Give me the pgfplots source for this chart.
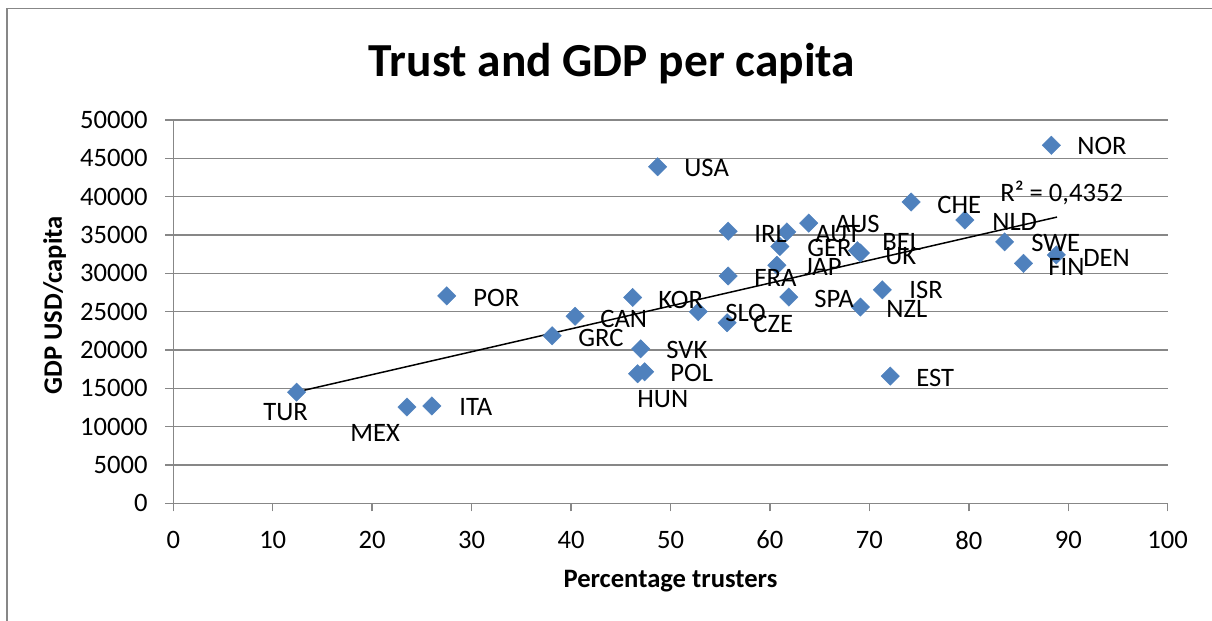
\documentclass[border=0pt]{standalone}
\usepackage{pgfplots}
\pgfplotsset{compat=1.18}
\usepackage{fontspec}
\setmainfont{Carlito}
\definecolor{mk}{HTML}{4F81BD}
\definecolor{gridc}{HTML}{878787}
\newcommand{\tf}{\fontsize{13.3}{16}\selectfont}
\begin{document}
\begin{tikzpicture}
\useasboundingbox (-86.65pt,-58.85pt) rectangle (519.35pt,251.65pt);
\draw[gridc, line width=0.8pt] (-83.15pt,-70pt) -- (-83.15pt,247.4pt) -- (530pt,247.4pt);
\begin{axis}[
  at={(0pt,0pt)}, anchor=south west,
  scale only axis, width=497.2pt, height=191.65pt,
  xmin=0, xmax=100, ymin=0, ymax=50000,
  xtick={0,10,...,100}, ytick={0,5000,...,50000},
  axis x line=bottom, axis y line=left,
  axis line style={-, gridc, line width=0.75pt},
  tick align=outside, major tick length=4pt,
  tick style={gridc, line width=0.75pt},
  ymajorgrids, grid style={gridc, line width=0.75pt},
  scaled y ticks=false,
  /pgf/number format/.cd, 1000 sep={}, assume math mode=true,
  /pgfplots/.cd,
  tick label style={font=\tf, inner sep=0pt},
  yticklabel style={anchor=east, xshift=-8.65pt},
  xticklabel style={anchor=north, yshift=-9.6pt},
  clip=false,
]
\addplot[only marks, mark=square*, mark size=3.25pt,
  mark options={rotate=45, fill=mk, draw=mk, line width=0.2pt}]
  table {
x y
12.4 14500
23.5 12560
26.0 12700
27.5 27060
38.1 21850
40.4 24400
46.2 26850
47.0 20150
46.7 16900
47.4 17150
48.7 43900
52.8 25000
55.7 23550
55.8 35500
55.8 29650
60.7 31050
61.0 33500
61.7 35400
61.9 26900
63.9 36550
68.8 32950
69.1 32650
71.3 27850
69.1 25600
72.1 16600
74.2 39300
79.6 36950
83.6 34100
85.5 31300
88.8 32400
88.3 46700
};
\addplot[black, line width=0.75pt] coordinates {(12.4,14520) (88.87,37340)};
\addplot[draw=none, mark=none, nodes near coords, point meta=explicit symbolic,
  every node near coord/.style={anchor=west, inner sep=0pt, font=\tf, text=black}]
  table[meta=name] {
lx ly name
51.36 43730 USA
90.88 46600 NOR
76.80 38910 CHE
82.33 36690 NLD
66.54 36430 AUS
58.40 35120 IRL
64.53 35120 AUT
63.73 33300 GER
71.27 34080 BEL
71.57 32260 UK
86.25 33950 SWE
91.48 32000 DEN
87.96 30820 FIN
63.42 30820 JAP
58.40 29390 FRA
73.98 27820 ISR
64.43 26650 SPA
71.67 25340 NZL
30.14 26780 POR
48.74 26520 KOR
42.91 24040 CAN
55.48 24820 SLO
58.30 23390 CZE
40.70 21560 GRC
49.55 19990 SVK
49.95 17000 POL
46.63 13600 HUN
74.69 16340 EST
9.02 11910 TUR
28.73 12560 ITA
17.77 9170 MEX
};
\node[anchor=west, inner sep=0pt, font=\tf] at (axis cs:83.13,40470) {R² = 0,4352};
\end{axis}
\node[font=\fontsize{23.7}{28}\selectfont\bfseries, anchor=base] at (219.35pt,213.15pt) {Trust and GDP per capita};
\node[font=\tf\bfseries, anchor=base] at (248.6pt,-42pt) {Percentage trusters};
\node[font=\tf\bfseries, anchor=base, rotate=90] at (-55.65pt,99pt) {GDP USD/capita};
\end{tikzpicture}
\end{document}
